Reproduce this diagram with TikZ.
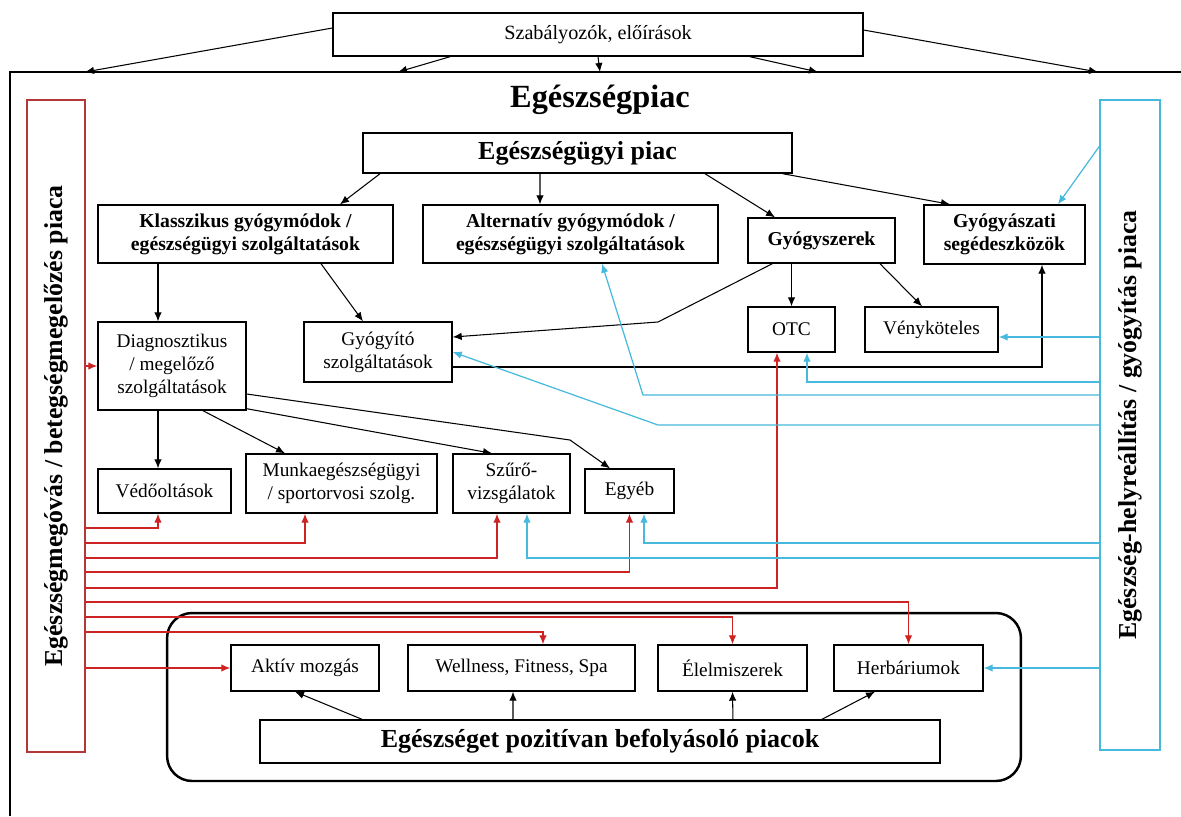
\documentclass[tikz,border=0pt]{standalone}
\usepackage{fontspec}
\setmainfont{Liberation Serif}
\usetikzlibrary{arrows.meta}
\definecolor{redline}{RGB}{205,35,35}
\definecolor{redframe}{RGB}{180,55,55}
\definecolor{cyanline}{RGB}{70,185,220}
\tikzset{
  box/.style={draw, line width=0.8pt, align=center, inner sep=1pt,
    font=\fontsize{11}{13}\selectfont},
  bbox/.style={box, font=\bfseries\fontsize{11.2}{13}\selectfont},
  bigbox/.style={box, font=\bfseries\fontsize{14.8}{17}\selectfont},
  arr/.style={-{Latex[length=1.8mm,width=1.5mm]}, line width=0.6pt},
  redarr/.style={arr, color=redline, line width=0.7pt},
  cyanarr/.style={arr, color=cyanline, line width=0.7pt},
  sidelabel/.style={rotate=90, font=\bfseries\fontsize{14.7}{17}\selectfont}
}
\begin{document}
\begin{tikzpicture}[x=0.02cm,y=-0.02cm]
  \useasboundingbox (0,0) rectangle (1181,816);
  % outer frame of the market
  \draw[line width=0.8pt] (10,816) -- (10,72) -- (1181,72);
  \coordinate (f1) at (85,72);
  \coordinate (f2) at (398,72);
  \coordinate (f3) at (600,72);
  \coordinate (f4) at (818,72);
  \coordinate (f5) at (1098,72);
  \node[box, minimum width=10.6cm, minimum height=0.86cm, font=\fontsize{11.5}{13}\selectfont] (szab) at (598,34.5) {Szabályozók, előírások};
  \node[font=\bfseries\fontsize{18.4}{20}\selectfont] (title) at (600,100) {Egészségpiac};
  % side markets
  \node[draw=redframe, line width=0.8pt, minimum width=1.16cm, minimum height=13.04cm] (redbox) at (56,426) {};
  \node[sidelabel] (redlabel) at (redbox.center) {Egészségmegóvás / betegségmegelőzés piaca};
  \node[draw=cyanline, line width=0.8pt, minimum width=1.2cm, minimum height=13cm] (cyanbox) at (1130,425) {};
  \node[sidelabel] (cyanlabel) at (cyanbox.center) {Egészség-helyreállítás / gyógyítás piaca};
  % health care market
  \node[bigbox, minimum width=8.58cm, minimum height=0.8cm] (egpiac) at (577.5,153) {Egészségügyi piac};
  \node[bbox, minimum width=5.9cm, minimum height=1.16cm] (klassz) at (245.5,234) {Klasszikus gyógymódok /\\egészségügyi szolgáltatások};
  \node[bbox, minimum width=5.9cm, minimum height=1.16cm] (altern) at (570.5,234) {Alternatív gyógymódok /\\egészségügyi szolgáltatások};
  \node[bbox, minimum width=2.94cm, minimum height=0.9cm] (gyszer) at (821.5,240.5) {Gyógyszerek};
  \node[bbox, minimum width=3.22cm, minimum height=1.18cm] (gyasz) at (1004.5,234.5) {Gyógyászati\\segédeszközök};
  \node[box, minimum width=2.96cm, minimum height=1.76cm] (diag) at (172,366) {Diagnosztikus\\/ megelőző\\szolgáltatások};
  \node[box, minimum width=2.96cm, minimum height=1.2cm] (gyogy) at (378,352) {Gyógyító\\szolgáltatások};
  \node[box, minimum width=1.74cm, minimum height=0.9cm] (otc) at (791.5,329.5) {OTC};
  \node[box, minimum width=2.66cm, minimum height=0.9cm] (veny) at (931.5,329.5) {Vényköteles};
  \node[box, minimum width=2.66cm, minimum height=0.88cm] (vedo) at (164.5,491) {Védőoltások};
  \node[box, minimum width=3.82cm, minimum height=1.18cm] (munka) at (341.5,483.5) {Munkaegészségügyi\\/ sportorvosi szolg.};
  \node[box, minimum width=2.34cm, minimum height=1.18cm] (szuro) at (511.5,483.5) {Szűrő-\\vizsgálatok};
  \node[box, minimum width=1.78cm, minimum height=0.88cm] (egyeb) at (629.5,491) {Egyéb};
  % markets with positive effect
  \node[draw, line width=1.4pt, rounded corners=0.5cm, minimum width=17.08cm, minimum height=3.36cm] (group) at (594,697) {};
  \node[box, minimum width=2.96cm, minimum height=0.92cm] (aktiv) at (305,668) {Aktív mozgás};
  \node[box, minimum width=4.54cm, minimum height=0.92cm] (well) at (521.5,668) {Wellness, Fitness, Spa};
  \node[box, minimum width=2.98cm, minimum height=0.92cm] (elelm) at (732.5,668) {Élelmiszerek};
  \node[box, minimum width=2.98cm, minimum height=0.92cm] (herb) at (908.5,668) {Herbáriumok};
  \node[bigbox, minimum width=13.6cm, minimum height=0.86cm] (pozit) at (600,741.5) {Egészséget pozitívan befolyásoló piacok};

  % regulation arrows
  \draw[arr] ([yshift=0.13cm]szab.west) -- (f1);
  \draw[arr] ([xshift=-2.96cm]szab.south) -- (f2);
  \draw[arr] (szab.south) -- (f3);
  \draw[arr] ([xshift=3.04cm]szab.south) -- (f4);
  \draw[arr] ([yshift=0.09cm]szab.east) -- (f5);
  % black arrows
  \coordinate (d1) at ([xshift=-0.28cm]diag.north);
  \coordinate (bend1) at (658,322);
  \coordinate (bend2) at (570,440);
  \draw[arr] ([xshift=-3.95cm]egpiac.south) -- ([xshift=1.89cm]klassz.north);
  \draw[arr] ([xshift=-0.75cm]egpiac.south) -- ([xshift=-0.61cm]altern.north);
  \draw[arr] ([xshift=2.55cm]egpiac.south) -- ([xshift=-0.93cm]gyszer.north);
  \draw[arr] ([xshift=-0.2cm]egpiac.south east) -- ([xshift=-1.09cm]gyasz.north);
  \draw[arr] (klassz.south -| d1) -- (d1);
  \draw[arr] ([xshift=1.51cm]klassz.south) -- ([xshift=-0.3cm]gyogy.north);
  \draw[arr] (otc.north |- gyszer.south) -- (otc.north);
  \draw[arr] ([xshift=1.17cm]gyszer.south) -- ([xshift=-0.19cm]veny.north);
  \draw[arr] ([xshift=0.5cm]gyszer.south west) -- (bend1) -- ([yshift=0.3cm]gyogy.east);
  \draw[arr] ([yshift=-0.3cm]gyogy.east) -| ([xshift=0.75cm]gyasz.south);
  \draw[arr] (d1 |- diag.south) -- (d1 |- vedo.north);
  \draw[arr] ([xshift=0.62cm]diag.south) -- ([xshift=-1.13cm]munka.north);
  \draw[arr] ([yshift=0.04cm]diag.south east) -- ([xshift=-0.39cm]szuro.north);
  \draw[arr] ([yshift=-0.56cm]diag.east) -- (bend2) -- ([xshift=-0.39cm]egyeb.north);
  \draw[arr] ([xshift=-4.76cm]pozit.north) -- ([xshift=-0.2cm]aktiv.south);
  \draw[arr] ([xshift=-1.74cm]pozit.north) -- ([xshift=-0.17cm]well.south);
  \draw[arr] ([xshift=2.66cm]pozit.north) -- (elelm.south);
  \draw[arr] ([xshift=4.44cm]pozit.north) -- ([xshift=-0.67cm]herb.south);

  % red connectors from the prevention market
  \coordinate (rv) at (85,528);
  \coordinate (rm) at (85,543);
  \coordinate (rs) at (85,558);
  \coordinate (re) at (85,572);
  \coordinate (ro) at (85,588);
  \coordinate (rh) at (85,602);
  \coordinate (rl) at (85,617);
  \coordinate (rw) at (85,632);
  \draw[redarr] (redbox.east |- diag.west) -- (diag.west);
  \draw[redarr] (rv) -| ([xshift=-0.13cm]vedo.south);
  \draw[redarr] (rm) -| ([xshift=-0.73cm]munka.south);
  \draw[redarr] (rs) -| ([xshift=-0.29cm]szuro.south);
  \draw[redarr] (re) -| (egyeb.south);
  \draw[redarr] (ro) -| ([xshift=-0.29cm]otc.south);
  \draw[redarr] (rh) -| (herb.north);
  \draw[redarr] (rl) -| (elelm.north);
  \draw[redarr] (rw) -| ([xshift=0.43cm]well.north);
  \draw[redarr] (redbox.east |- aktiv.west) -- (aktiv.west);

  % cyan connectors from the recovery market
  \coordinate (cg) at ([yshift=-0.94cm]cyanbox.north west);
  \coordinate (cv) at (1100,337);
  \coordinate (co) at (1100,382);
  \coordinate (ca) at (1100,395);
  \coordinate (cy) at (1100,425);
  \coordinate (ce) at (1100,543);
  \coordinate (cs) at (1100,558);
  \coordinate (bend3) at (643,395);
  \coordinate (bend4) at (658,425);
  \draw[cyanarr] (cg) -- ([xshift=1.07cm]gyasz.north);
  \draw[cyanarr] (cv) -- (cv -| veny.east);
  \draw[cyanarr] (co) -| ([xshift=0.31cm]otc.south);
  \draw[cyanarr] (ca) -- (bend3) -- ([xshift=0.63cm]altern.south);
  \draw[cyanarr] (cy) -- (bend4) -- (gyogy.east);
  \draw[cyanarr] (ce) -| ([xshift=0.29cm]egyeb.south);
  \draw[cyanarr] (cs) -| ([xshift=0.31cm]szuro.south);
  \draw[cyanarr] (cyanbox.west |- herb.east) -- (herb.east);
\end{tikzpicture}
\end{document}
